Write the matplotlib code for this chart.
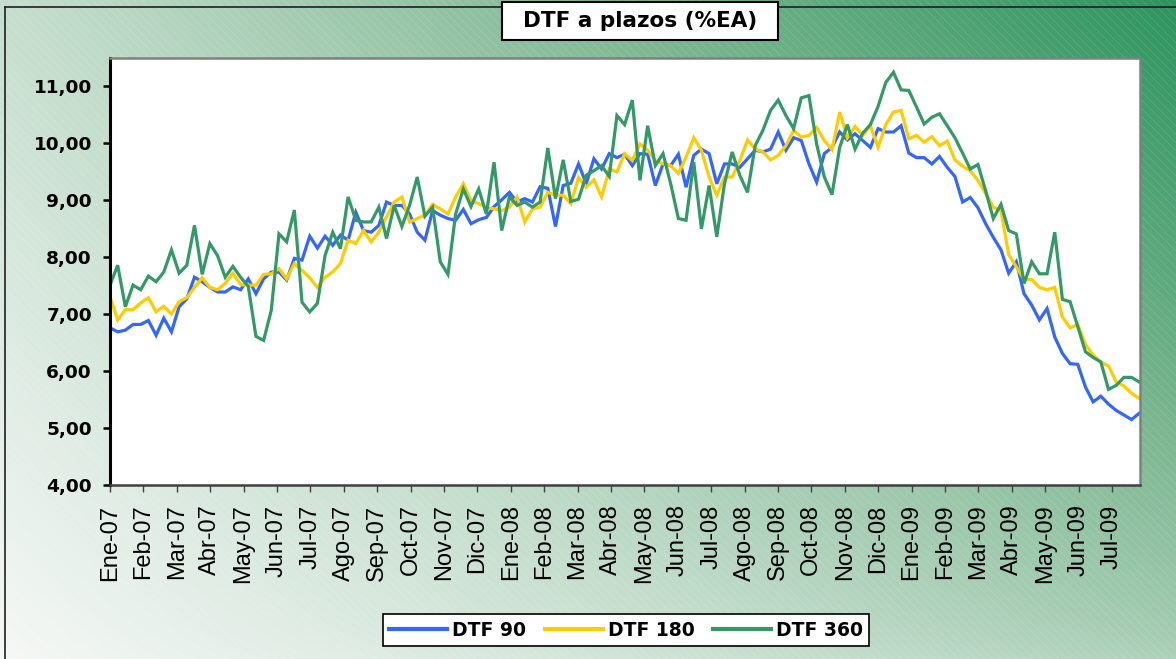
import numpy as np
import matplotlib
matplotlib.use("Agg")
import matplotlib.pyplot as plt
from matplotlib.colors import LinearSegmentedColormap
from matplotlib.patches import Rectangle
from matplotlib.lines import Line2D

W, H = 1176, 659

# weekly DTF rates (%EA), Jan-2007 .. Jul-2009
dtf90 = [
    6.76, 6.69, 6.72, 6.82, 6.82, 6.89, 6.63, 6.93, 6.69, 7.13, 7.27, 7.65, 7.57, 7.47, 7.39, 7.39,
    7.48, 7.43, 7.62, 7.36, 7.62, 7.74, 7.74, 7.60, 7.98, 7.95, 8.37, 8.16, 8.37, 8.21, 8.39, 8.30,
    8.79, 8.47, 8.44, 8.56, 8.97, 8.91, 8.91, 8.76, 8.44, 8.30, 8.82, 8.74, 8.68, 8.65, 8.84, 8.59,
    8.66, 8.70, 8.89, 9.01, 9.14, 8.97, 9.03, 8.97, 9.24, 9.21, 8.54, 9.26, 9.30, 9.64,
    9.29, 9.73, 9.55, 9.82, 9.75, 9.81, 9.61, 9.82, 9.81, 9.26, 9.64, 9.61, 9.81, 9.23, 9.79, 9.90,
    9.82, 9.29, 9.64, 9.64, 9.58, 9.73, 9.88, 9.85, 9.90, 10.20, 9.88, 10.10, 10.05, 9.64,
    9.32, 9.82, 9.93, 10.20, 10.06, 10.17, 10.05, 9.93, 10.26, 10.20, 10.20, 10.31, 9.83, 9.75,
    9.75, 9.64, 9.77, 9.58, 9.42,
    8.97, 9.05, 8.87, 8.59, 8.35, 8.13, 7.72, 7.92, 7.36, 7.16, 6.90, 7.10, 6.60, 6.31, 6.13, 6.12,
    5.72, 5.46, 5.56, 5.42, 5.31, 5.23, 5.15, 5.26,
]
dtf180 = [
    7.30, 6.90, 7.08, 7.08, 7.20, 7.29, 7.04, 7.14, 7.00, 7.22, 7.29, 7.47, 7.64, 7.47, 7.43, 7.54,
    7.72, 7.52, 7.51, 7.51, 7.70, 7.71, 7.80, 7.62, 7.89, 7.77, 7.64, 7.47, 7.65, 7.74, 7.89, 8.30,
    8.24, 8.47, 8.27, 8.44, 8.71, 8.97, 9.06, 8.62, 8.68, 8.74, 8.93, 8.85, 8.76, 9.06, 9.29, 9.00,
    8.94, 8.88, 8.85, 8.82, 8.88, 9.06, 8.62, 8.85, 8.88, 9.14, 9.09, 9.09, 8.94, 9.40,
    9.23, 9.36, 9.06, 9.55, 9.50, 9.82, 9.70, 9.99, 9.88, 9.70, 9.64, 9.61, 9.47, 9.76, 10.10, 9.88,
    9.41, 9.09, 9.41, 9.41, 9.70, 10.06, 9.90, 9.85, 9.71, 9.79, 9.96, 10.23, 10.11, 10.14,
    10.28, 10.05, 9.89, 10.55, 10.10, 10.30, 10.14, 10.31, 9.93, 10.33, 10.55, 10.58, 10.08, 10.14,
    10.02, 10.12, 9.96, 10.04, 9.71,
    9.60, 9.52, 9.35, 9.12, 8.88, 8.82, 8.05, 7.83, 7.61, 7.61, 7.47, 7.43, 7.47, 6.95, 6.76, 6.82,
    6.47, 6.28, 6.16, 6.09, 5.81, 5.74, 5.61, 5.52,
]
dtf360 = [
    7.51, 7.86, 7.13, 7.51, 7.43, 7.67, 7.57, 7.74, 8.13, 7.72, 7.86, 8.56, 7.70, 8.24, 8.03, 7.65,
    7.84, 7.65, 7.49, 6.61, 6.54, 7.07, 8.41, 8.27, 8.83, 7.21, 7.04, 7.19, 8.03, 8.44, 8.15, 9.06,
    8.65, 8.62, 8.62, 8.88, 8.33, 8.91, 8.54, 8.91, 9.41, 8.72, 8.88, 7.92, 7.70, 8.76, 9.20, 8.89,
    9.20, 8.76, 9.67, 8.47, 9.06, 8.91, 8.97, 8.88, 8.97, 9.92, 9.03, 9.71, 8.98, 9.02,
    9.44, 9.52, 9.61, 9.42, 10.49, 10.33, 10.76, 9.35, 10.31, 9.61, 9.82, 9.29, 8.68, 8.65, 9.67, 8.50,
    9.26, 8.36, 9.29, 9.85, 9.44, 9.14, 9.96, 10.23, 10.58, 10.76, 10.49, 10.26, 10.80, 10.84,
    9.99, 9.41, 9.10, 9.93, 10.33, 9.90, 10.18, 10.33, 10.65, 11.07, 11.25, 10.94, 10.93, 10.64,
    10.34, 10.46, 10.52, 10.31, 10.10,
    9.83, 9.55, 9.63, 9.17, 8.68, 8.93, 8.47, 8.41, 7.54, 7.92, 7.71, 7.71, 8.44, 7.26, 7.22, 6.78,
    6.34, 6.24, 6.16, 5.68, 5.75, 5.89, 5.89, 5.81,
]
months = ["Ene", "Feb", "Mar", "Abr", "May", "Jun", "Jul", "Ago", "Sep", "Oct", "Nov", "Dic"]
month_labels = [f"{months[m % 12]}-{7 + m // 12:02d}" for m in range(31)]
yticks = [4, 5, 6, 7, 8, 9, 10, 11]

BLUE = "#3366ff"
YELLOW = "#ffcc00"
GREEN = "#339966"

fig = plt.figure(figsize=(W / 100, H / 100), dpi=100)

# background: diagonal green gradient with faint white hatch
bg = fig.add_axes([0, 0, 1, 1])
gx, gy = np.meshgrid(np.linspace(0, 1, 300), np.linspace(0, 1, 300))
t = 0.28 * gy + 0.4 * gx + 0.32 * gx * gy ** 0.6
cmap = LinearSegmentedColormap.from_list(
    "bg", [(0, "#f5f8f6"), (0.3, "#c2dccb"), (0.65, "#7fb893"), (1, "#2e9460")])
bg.imshow(t, cmap=cmap, origin="lower", extent=[0, 1, 0, 1], aspect="auto", vmin=0, vmax=1)
plt.rcParams["hatch.linewidth"] = 0.5
bg.add_patch(Rectangle((0, 0), 1, 1, facecolor="none", edgecolor=(1, 1, 1, 0.14),
                       hatch="\\\\\\\\", linewidth=0))
bg.set_xlim(0, 1)
bg.set_ylim(0, 1)
bg.axis("off")

ax = fig.add_axes([110 / W, 1 - 485 / H, (1140 - 110) / W, (485 - 58) / H])
ax.set_facecolor("white")
x = np.arange(len(dtf90))
ax.plot(x, dtf90, color=BLUE, lw=2.3, label="DTF 90", solid_joinstyle="miter")
ax.plot(x, dtf180, color=YELLOW, lw=2.3, label="DTF 180", solid_joinstyle="miter")
ax.plot(x, dtf360, color=GREEN, lw=2.3, label="DTF 360", solid_joinstyle="miter")

week_per_month = 365.25 / 12 / 7
ax.set_xlim(0, len(dtf90) - 0.9)
ax.set_ylim(4, 11.5)
ax.set_xticks(np.arange(31) * week_per_month)
ax.set_xticklabels(month_labels, rotation=90, fontsize=17, family="Liberation Sans")
ax.set_yticks(yticks)
ax.set_yticklabels([f"{v:.2f}".replace(".", ",") for v in yticks],
                   fontsize=13.3, fontweight="bold")
ax.tick_params(axis="y", length=5, width=1.8, color="black", pad=8)
ax.tick_params(axis="x", length=5, width=1, color="#404040", pad=9)

ax.spines["left"].set_color("black")
ax.spines["left"].set_linewidth(2.2)
ax.spines["bottom"].set_color("#404040")
ax.spines["bottom"].set_linewidth(1.8)
for s in ("top", "right"):
    ax.spines[s].set_color("#808080")
    ax.spines[s].set_linewidth(1.8)

leg = fig.legend(loc="center", bbox_to_anchor=(626 / W, 1 - 630 / H), ncol=3,
                 prop={"weight": "bold", "size": 13.5}, handlelength=3.1,
                 handletextpad=0.25, columnspacing=1.0, fancybox=False,
                 edgecolor="black", framealpha=1, borderpad=0.35)
leg.get_frame().set_linewidth(1.2)
for line in leg.get_lines():
    line.set_linewidth(3)

# title box
fig.patches.append(Rectangle((502 / W, 1 - 40 / H), 276 / W, 38 / H, transform=fig.transFigure,
                             facecolor="white", edgecolor="black", linewidth=1.5, zorder=5))
fig.text(640 / W, 1 - 21 / H, "DTF a plazos (%EA)", ha="center", va="center",
         fontsize=15.5, fontweight="bold", zorder=6)

# outer frame (left and top edges visible)
fig.lines.append(Line2D([5 / W, 5 / W], [0, 1 - 7 / H], transform=fig.transFigure,
                        color="#202020", lw=1.2))
fig.lines.append(Line2D([5 / W, 1], [1 - 7 / H, 1 - 7 / H], transform=fig.transFigure,
                        color="#202020", lw=1.2))

fig.savefig("out.png", dpi=100)
